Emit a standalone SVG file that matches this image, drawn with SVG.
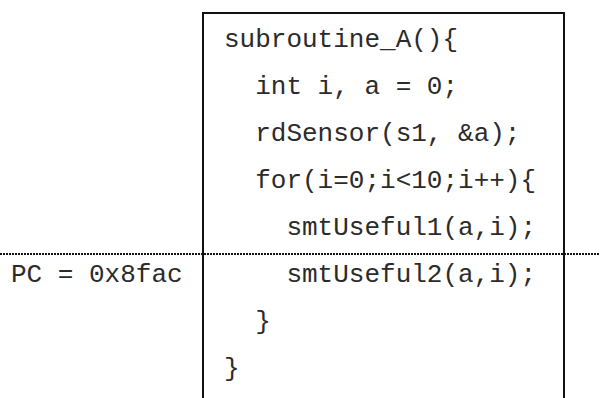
<svg xmlns="http://www.w3.org/2000/svg" width="600" height="398" viewBox="0 0 600 398">
  <style>
    .code { font-family: "Liberation Mono", "Courier New", monospace; font-size: 26px; fill: #2b2b2b; white-space: pre; }
    .frame { fill: none; stroke: #111; stroke-width: 2; }
    .pc-line { stroke: #111; stroke-width: 2; stroke-dasharray: 2 1; }
  </style>
  <rect width="600" height="398" fill="#fff"/>

  <!-- code listing of subroutine_A, frame runs past the bottom edge -->
  <g id="subroutine-block">
    <rect class="frame" x="203" y="13" width="361" height="400"/>
    <text class="code" x="224" y="47">subroutine_A(){</text>
    <text class="code" x="224" y="94">  int i, a = 0;</text>
    <text class="code" x="224" y="141">  rdSensor(s1, &amp;a);</text>
    <text class="code" x="224" y="188">  for(i=0;i&lt;10;i++){</text>
    <text class="code" x="224" y="235">    smtUseful1(a,i);</text>
    <text class="code" x="224" y="282">    smtUseful2(a,i);</text>
    <text class="code" x="224" y="329">  }</text>
    <text class="code" x="224" y="376">}</text>
  </g>

  <!-- program counter position marker -->
  <g id="connectors">
    <line class="pc-line" x1="0" y1="254" x2="600" y2="254"/>
  </g>
  <g id="pc-label">
    <text class="code" x="11" y="282">PC = 0x8fac</text>
  </g>
</svg>
